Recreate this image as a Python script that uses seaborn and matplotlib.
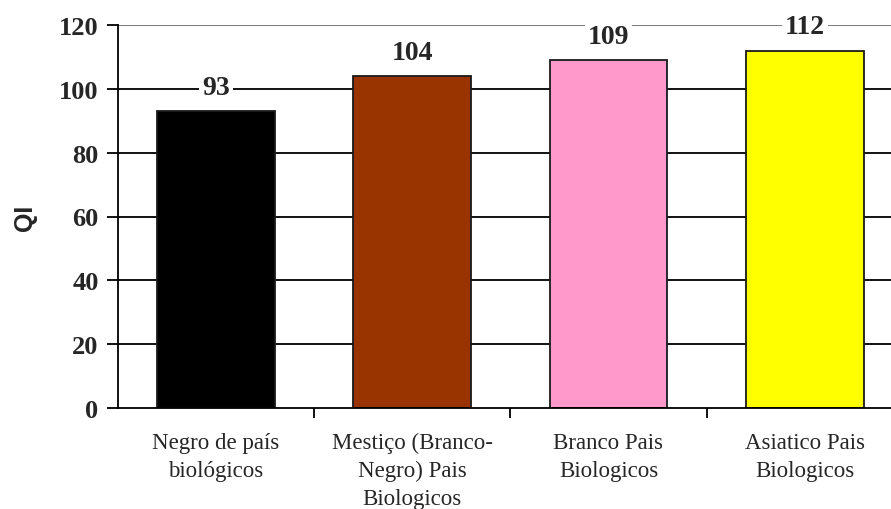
import matplotlib
matplotlib.use("Agg")
import matplotlib.pyplot as plt
import seaborn as sns
import pandas as pd
import numpy as np

categories = ["Negro de país\nbiológicos",
              "Mestiço (Branco-\nNegro) Pais\nBiologicos",
              "Branco Pais\nBiologicos",
              "Asiatico Pais\nBiologicos"]
values = [93, 104, 109, 112]
colors = ["#000000", "#993300", "#FF99CC", "#FFFF00"]
yticks = [0, 20, 40, 60, 80, 100, 120]

df = pd.DataFrame({"grupo": categories, "QI": values})

sns.set_theme(style="white")
plt.rcParams["font.family"] = ["Liberation Serif", "DejaVu Serif"]

fig = plt.figure(figsize=(8.91, 5.10), dpi=100)
ax = fig.add_axes([118 / 891, 1 - 409 / 510, (891 - 118) / 891, (409 - 26) / 510])

sns.barplot(data=df, x="grupo", y="QI", hue="grupo", palette=colors,
            saturation=1, legend=False, width=0.6, edgecolor="#1a1a1a",
            linewidth=1.3, ax=ax, zorder=3)

ax.set_xlim(-0.5, 3.44)
ax.set_ylim(0, 120)

# horizontal gridlines
for t in yticks[1:-1]:
    ax.axhline(t, color="black", lw=1.3, zorder=1)
ax.axhline(120, color="#808080", lw=1.5, zorder=1)

for s in ["top", "right"]:
    ax.spines[s].set_visible(False)
for s in ["left", "bottom"]:
    ax.spines[s].set_color("black")
    ax.spines[s].set_linewidth(1.3)
    ax.spines[s].set_zorder(4)

ax.set_yticks(yticks)
ax.set_yticklabels([str(t) for t in yticks], fontsize=19, fontweight="bold")
ax.tick_params(axis="y", direction="out", length=8, width=1.3, color="black",
               left=True, pad=6)

ax.set_xticks(range(len(categories)))
ax.set_xticklabels(categories, fontsize=16.5, linespacing=1.45, va="top")
ax.tick_params(axis="x", length=0, pad=17)
ax.set_xticks([0.5, 1.5, 2.5], minor=True)
ax.tick_params(axis="x", which="minor", direction="out", length=7, width=1.3,
               color="black", bottom=True)

ax.set_xlabel("")
ax.set_ylabel("QI", fontsize=18, fontweight="bold", family="Liberation Sans",
              labelpad=16)

for i, v in enumerate(values):
    ax.text(i, v + 7.4, str(v), ha="center", va="center", fontsize=20,
            fontweight="bold", zorder=5,
            bbox=dict(facecolor="white", edgecolor="none", pad=2))

fig.savefig("out.png", dpi=100)
